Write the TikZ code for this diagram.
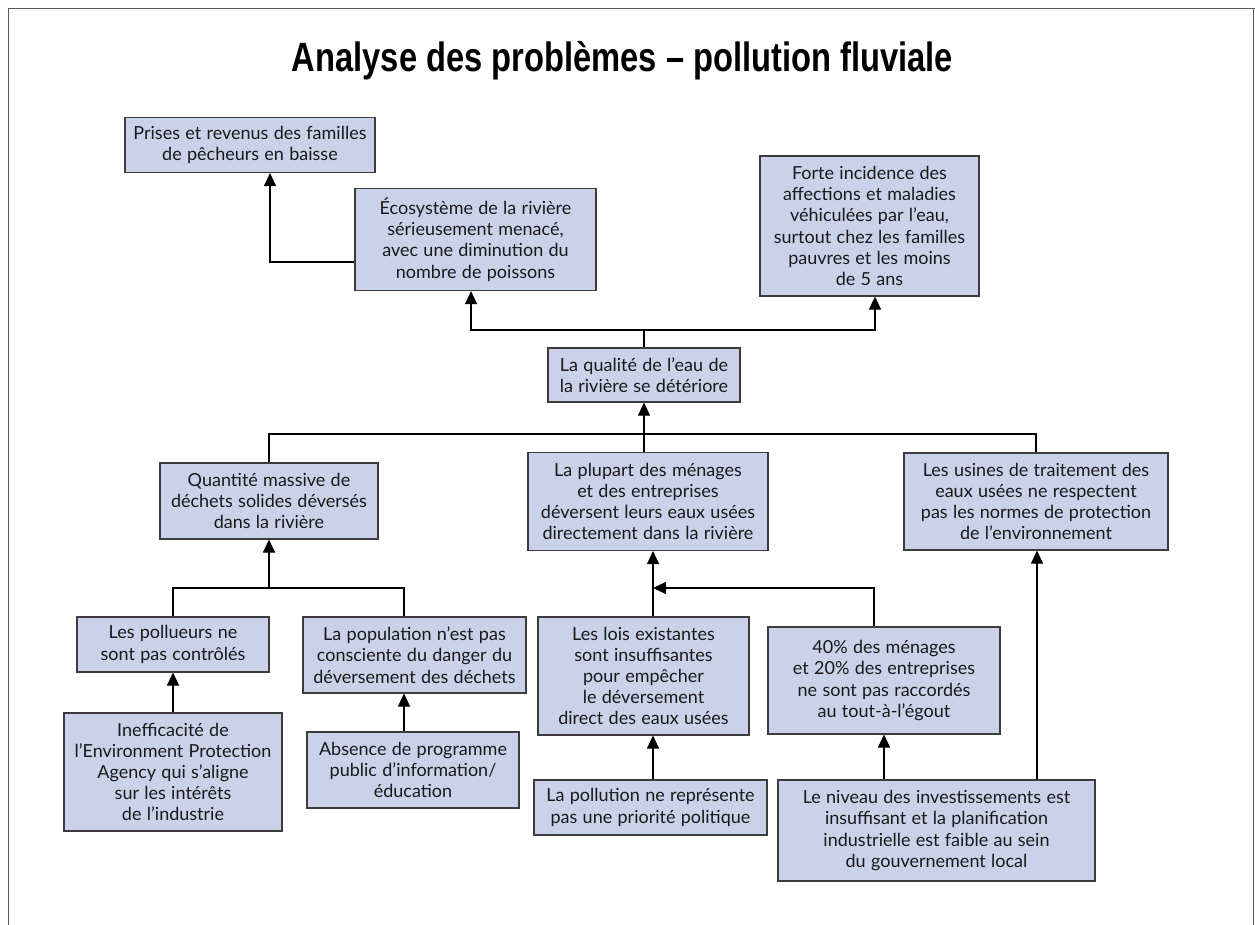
\documentclass[tikz,border=0pt]{standalone}
\usepackage{fontspec}
\usepackage{graphicx}
\setmainfont{Lato}[WordSpace={1.15}]
\newfontfamily\titlefont{Liberation Sans}
\usetikzlibrary{arrows.meta}
\definecolor{boxfill}{RGB}{202,210,234}
\definecolor{boxline}{RGB}{60,60,60}
\definecolor{txt}{RGB}{25,25,25}
\definecolor{framecol}{RGB}{90,90,90}
\tikzset{
  box/.style={draw=boxline, line width=1.1pt, fill=boxfill, inner sep=0pt,
    align=center, text=txt, font=\fontsize{18}{21.2}\selectfont, anchor=center},
  conn/.style={line width=1.1pt, draw=black},
  arr/.style={conn, -{Triangle[length=13pt,width=12pt]}},
}
\begin{document}
\begin{tikzpicture}[x=1pt,y=-1pt]
\useasboundingbox (0,0) rectangle (1255,925);
% frame
\draw[framecol, line width=1pt] (8,925) -- (8,9) -- (1255,9);
\draw[framecol, line width=1pt] (1253,9) -- (1253,925);
% title
\node[anchor=base, inner sep=0pt] (title) at (622.5,72)
  {\resizebox{661pt}{\height}{\titlefont\bfseries\fontsize{41}{44}\selectfont Analyse des problèmes – pollution fluviale}};
% boxes
\node[box, minimum width=250pt, minimum height=55pt] (prises) at (250,145)
  {Prises et revenus des familles\\de pêcheurs en baisse};
\node[box, minimum width=241pt, minimum height=102pt] (eco) at (475.5,239.5)
  {Écosystème de la rivière\\sérieusement menacé,\\avec une diminution du\\nombre de poissons};
\node[box, minimum width=219pt, minimum height=140pt] (forte) at (869.5,226)
  {Forte incidence des\\affections et maladies\\véhiculées par l’eau,\\surtout chez les familles\\pauvres et les moins\\de 5 ans};
\node[box, minimum width=192pt, minimum height=54pt] (qual) at (644,375)
  {La qualité de l’eau de\\la rivière se détériore};
\node[box, minimum width=218pt, minimum height=76pt] (quant) at (269,501)
  {Quantité massive de\\déchets solides déversés\\dans la rivière};
\node[box, minimum width=240pt, minimum height=98pt] (plupart) at (648,501.5)
  {La plupart des ménages\\et des entreprises\\déversent leurs eaux usées\\directement dans la rivière};
\node[box, minimum width=264pt, minimum height=97pt] (usines) at (1036,501.5)
  {Les usines de traitement des\\eaux usées ne respectent\\pas les normes de protection\\de l’environnement};
\node[box, minimum width=192pt, minimum height=55pt] (pollueurs) at (173,644.5)
  {Les pollueurs ne\\sont pas contrôlés};
\node[box, minimum width=223pt, minimum height=76pt] (population) at (414.5,655)
  {La population n’est pas\\consciente du danger du\\déversement des déchets};
\node[box, minimum width=211pt, minimum height=118pt] (lois) at (643.5,676)
  {Les lois existantes\\sont insuffisantes\\pour empêcher\\le déversement\\direct des eaux usées};
\node[box, minimum width=232pt, minimum height=107pt] (forty) at (884,680.5)
  {40\% des ménages\\et 20\% des entreprises\\ne sont pas raccordés\\au tout-à-l’égout};
\node[box, minimum width=218pt, minimum height=118pt] (ineff) at (173,772)
  {Inefficacité de\\l’Environment Protection\\Agency qui s’aligne\\sur les intérêts\\de l’industrie};
\node[box, minimum width=212pt, minimum height=76pt] (absence) at (413,770)
  {Absence de programme\\public d’information/\\éducation};
\node[box, minimum width=233pt, minimum height=55pt] (pollution) at (650.5,807.5)
  {La pollution ne représente\\pas une priorité politique};
\node[box, minimum width=317pt, minimum height=101pt] (niveau) at (936.5,830.5)
  {Le niveau des investissements est\\insuffisant et la planification\\industrielle est faible au sein\\du gouvernement local};
% junctions
\coordinate (j1) at (644,330);
\coordinate (j2) at (644,434);
\coordinate (j3) at (269,588);
\coordinate (j4) at (653,588);
% connectors
\draw[arr] ([yshift=-22.5pt]eco.west) -| ([xshift=20pt]prises.south);
\draw[conn] (qual.north) -- (j1);
\draw[arr] (j1) -| ([xshift=-4.5pt]eco.south);
\draw[arr] (j1) -| ([xshift=5.5pt]forte.south);
\draw[arr] (plupart.north -| qual.south) -- (qual.south);
\draw[conn] (quant.north) |- (j2) -| (usines.north);
\draw[arr] (j3) -- (quant.south);
\draw[conn] (pollueurs.north) |- (j3) -| ([xshift=-10.5pt]population.north);
\draw[arr] (ineff.north) -- (ineff.north |- pollueurs.south);
\draw[arr] ([xshift=-9pt]absence.north) -- ([xshift=-10.5pt]population.south);
\draw[arr] ([xshift=9.5pt]lois.north) -- ([xshift=9.5pt]lois.north |- plupart.south);
\draw[arr] ([xshift=-10pt]forty.north) |- (j4);
\draw[arr] ([xshift=2.5pt]pollution.north) -- ([xshift=2.5pt]pollution.north |- lois.south);
\draw[arr] ([xshift=-52.5pt]niveau.north) -- ([xshift=-52.5pt]niveau.north |- forty.south);
\draw[arr] ([xshift=100.5pt]niveau.north) -- ([xshift=100.5pt]niveau.north |- usines.south);
\end{tikzpicture}
\end{document}
